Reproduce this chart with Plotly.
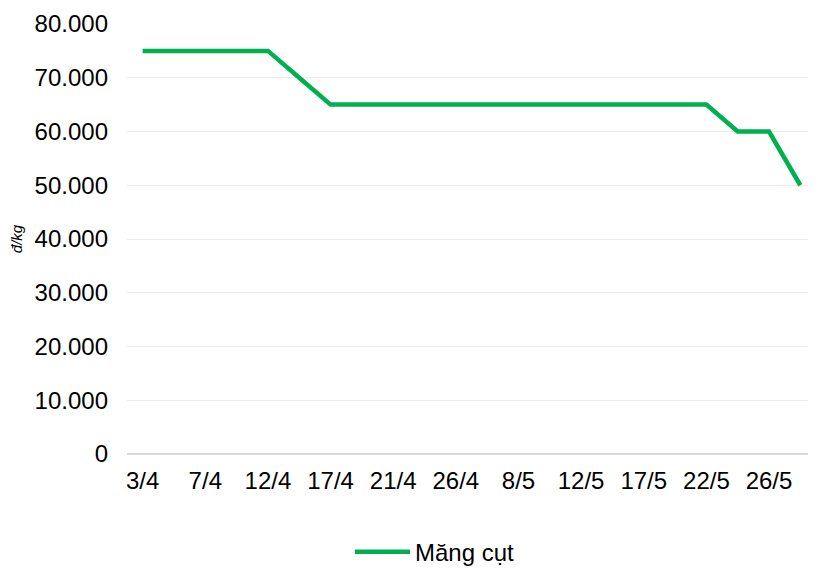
import plotly.graph_objects as go

# ngày khảo sát (nhãn trục hoành chỉ hiện mỗi ngày thứ hai)
dates = ["3/4", "5/4", "7/4", "10/4", "12/4", "14/4", "17/4", "19/4", "21/4", "24/4",
         "26/4", "28/4", "8/5", "10/5", "12/5", "15/5", "17/5", "19/5", "22/5", "24/5",
         "26/5", "29/5"]
mang_cut = [75000, 75000, 75000, 75000, 75000, 70000, 65000, 65000, 65000, 65000,
            65000, 65000, 65000, 65000, 65000, 65000, 65000, 65000, 65000, 60000,
            60000, 50000]
tick_dates = dates[::2]

FONT = "Liberation Sans, Arial, sans-serif"
GREEN = "#00B050"

fig = go.Figure()
fig.add_trace(go.Scatter(
    x=dates, y=mang_cut, mode="lines", name="Măng cụt",
    line=dict(color=GREEN, width=4.5),
))

# the page body has an 8px margin, so margins are shifted by 8px
fig.update_layout(
    width=816, height=580,
    margin=dict(l=119, r=8, t=16, b=134),
    paper_bgcolor="white", plot_bgcolor="white",
    font=dict(family=FONT, size=24, color="#000000"),
    separators=",.",
    showlegend=True,
    legend=dict(orientation="h", x=0.447, xanchor="center", y=-0.228, yanchor="middle",
                font=dict(size=24), itemwidth=55),
    xaxis=dict(
        type="category", categoryorder="array", categoryarray=dates,
        tickmode="array", tickvals=tick_dates, ticktext=tick_dates,
        range=[-0.5, len(dates) - 0.5], automargin=False,
        showgrid=False, showline=False, zeroline=False, ticks="",
        ticklabelstandoff=10,
    ),
    yaxis=dict(
        range=[0, 80000], dtick=10000, tickformat=",d", automargin=False,
        showgrid=True, gridcolor="#EBEBEB", gridwidth=1,
        zeroline=True, zerolinecolor="#D9D9D9", zerolinewidth=1.5,
        showline=False, ticks="", ticklabelstandoff=18,
        title=dict(text="<i>đ/kg</i>", font=dict(size=15), standoff=89),
    ),
)

fig.write_html("out.html")
